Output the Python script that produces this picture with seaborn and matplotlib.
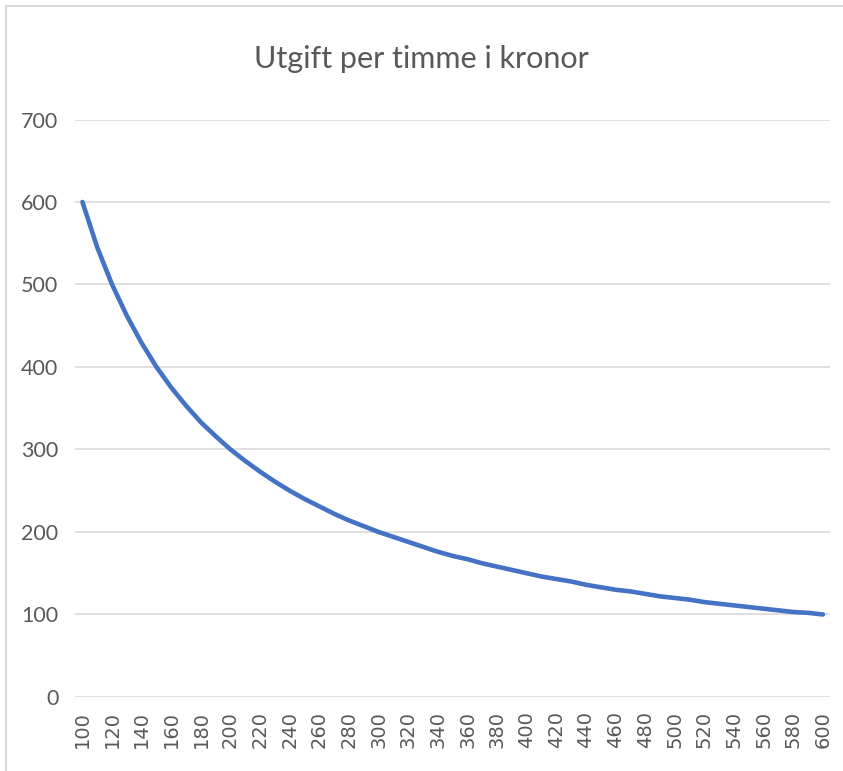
import matplotlib
matplotlib.use("Agg")
import matplotlib.pyplot as plt
from matplotlib.lines import Line2D
import numpy as np
import seaborn as sns

# hours (category axis) and cost per hour in kronor
timer = [100, 110, 120, 130, 140, 150, 160, 170, 180, 190,
         200, 210, 220, 230, 240, 250, 260, 270, 280, 290,
         300, 310, 320, 330, 340, 350, 360, 370, 380, 390,
         400, 410, 420, 430, 440, 450, 460, 470, 480, 490,
         500, 510, 520, 530, 540, 550, 560, 570, 580, 590, 600]
utgift = [600, 545, 500, 462, 429, 400, 375, 353, 333, 316,
          300, 286, 273, 261, 250, 240, 231, 222, 214, 207,
          200, 194, 188, 182, 176, 171, 167, 162, 158, 154,
          150, 146, 143, 140, 136, 133, 130, 128, 125, 122,
          120, 118, 115, 113, 111, 109, 107, 105, 103, 102, 100]
y_ticks = [0, 100, 200, 300, 400, 500, 600, 700]

sns.set_theme(style="white")
plt.rcParams['font.family'] = ['Lato', 'DejaVu Sans']

fig = plt.figure(figsize=(8.43, 7.71), dpi=100)
ax = fig.add_axes([0.089, 0.096, 0.896, 0.749])

pos = np.arange(len(timer))
sns.lineplot(x=pos, y=utgift, ax=ax, color="#4472C4", linewidth=3.3)

ax.set_xlim(-0.5, len(timer) - 0.5)
ax.set_ylim(0, 700)
ax.set_yticks(y_ticks)
ax.set_yticklabels([str(v) for v in y_ticks], fontsize=15.5, color="#595959")
ax.set_xticks(pos[::2])
ax.set_xticklabels([str(t) for t in timer[::2]], rotation=90, fontsize=14,
                   color="#595959", family=['DejaVu Sans'])
ax.tick_params(axis='y', length=0, pad=12)
ax.tick_params(axis='x', length=0, pad=10)
ax.yaxis.grid(True, color="#d9d9d9", linewidth=1.2)
ax.set_axisbelow(True)
for s in ax.spines.values():
    s.set_visible(False)
ax.set_xlabel("")
ax.set_ylabel("")

fig.suptitle("Utgift per timme i kronor", y=0.942, fontsize=22, color="#595959")

# chart frame (top and left edges visible in the reference)
fig.add_artist(Line2D([0.007, 1.0], [0.992, 0.992], transform=fig.transFigure,
                      color="#d9d9d9", linewidth=1.5))
fig.add_artist(Line2D([0.007, 0.007], [0.0, 0.992], transform=fig.transFigure,
                      color="#d9d9d9", linewidth=1.5))

fig.savefig("out.png", dpi=100)
